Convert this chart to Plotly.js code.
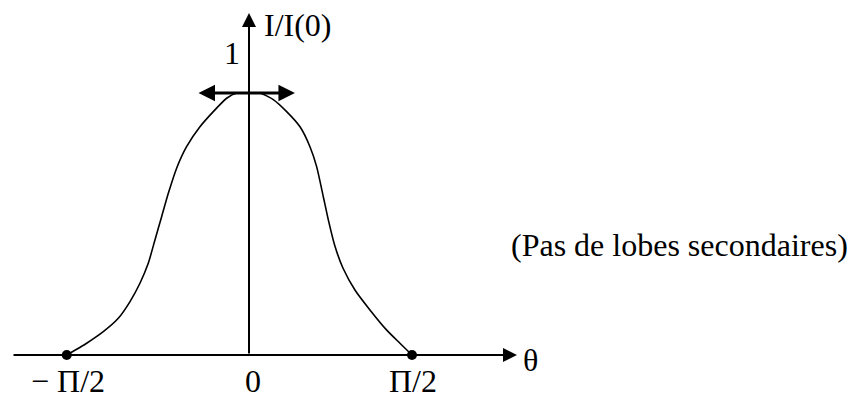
<!DOCTYPE html>
<html>
<head>
<meta charset="utf-8">
<script src="https://cdn.plot.ly/plotly-3.0.1.min.js"></script>
<style>
  html, body { margin: 0; padding: 0; background: #fff; }
  #chart { width: 851px; height: 398px; }
</style>
</head>
<body>
<div id="chart"></div>
<script>
// theta in units of Pi/2 (as drawn), intensity I/I(0)
const theta = [-1.118, -0.996, -0.894, -0.802, -0.73, -0.669, -0.618, -0.577, -0.536, -0.495,
  -0.444, -0.383, -0.301, -0.219, -0.137, -0.075, 0,
  0.067, 0.149, 0.231, 0.313, 0.374, 0.415, 0.456, 0.487, 0.528, 0.577, 0.65, 0.742, 0.845, 0.926, 1.0];
const intensity = [0, 0.045, 0.089, 0.14, 0.204, 0.274, 0.35, 0.439, 0.528, 0.617,
  0.713, 0.795, 0.871, 0.929, 0.98, 1.0, 1.0,
  1.0, 0.975, 0.929, 0.871, 0.795, 0.719, 0.604, 0.515, 0.414, 0.331, 0.248, 0.172, 0.095, 0.045, 0];

const endpointX = [-1.118, 1.0];
const endpointY = [0, 0];

const tickVals = [-1.118, 0, 1.0];
const tickText = ["\u2212 \u03A0/2", "0", "\u03A0/2"];

const serif = { family: "Liberation Serif, Times New Roman, serif", size: 32, color: "#000" };

function arrow(x0, y0, x1, y1, width, size, side) {
  return {
    x: x1, y: y1, ax: x0, ay: y0,
    xref: "x", yref: "y", axref: "x", ayref: "y",
    text: "", showarrow: true,
    arrowhead: 2, startarrowhead: 2,
    arrowsize: size, startarrowsize: size,
    arrowwidth: width, arrowcolor: "#000",
    arrowside: side || "end",
    standoff: 0, startstandoff: 0,
  };
}

function label(x, y, text, anchor) {
  return {
    x, y, xref: "x", yref: "y", text, showarrow: false,
    xanchor: anchor || "center", yanchor: "middle", font: serif, borderpad: 0,
  };
}

const annotations = [
  arrow(-1.454, 0, 1.644, 0, 2, 1.4),
  arrow(0, 0, 0, 1.305, 2, 1.4),
  arrow(-0.319, 1.0, 0.282, 1.0, 3, 1.1, "end+start"),
  label(0.085, 1.26, "I/I(0)", "left"),
  label(-0.104, 1.153, "1"),
  label(1.73, -0.019, "\u03B8"),
  label(2.644, 0.42, "(Pas de lobes secondaires)"),
  ...tickVals.map((v, i) => label(v + (i === 1 ? 0.025 : 0.006), -0.1, tickText[i])),
];

Plotly.newPlot(
  "chart",
  [
    {
      x: theta,
      y: intensity,
      type: "scatter",
      mode: "lines",
      line: { color: "#000", width: 1.6, shape: "spline", smoothing: 0.6 },
      hoverinfo: "skip",
    },
    {
      x: endpointX,
      y: endpointY,
      type: "scatter",
      mode: "markers",
      marker: { color: "#000", size: 10 },
      hoverinfo: "skip",
    },
  ],
  {
    width: 851,
    height: 398,
    margin: { l: 0, r: 0, t: 0, b: 0 },
    showlegend: false,
    paper_bgcolor: "#fff",
    plot_bgcolor: "#fff",
    xaxis: { range: [-1.5276, 3.6933], visible: false, fixedrange: true },
    yaxis: { range: [-0.1641, 1.355], visible: false, fixedrange: true },
    annotations,
  },
  { displayModeBar: false, staticPlot: true },
);
</script>
</body>
</html>
